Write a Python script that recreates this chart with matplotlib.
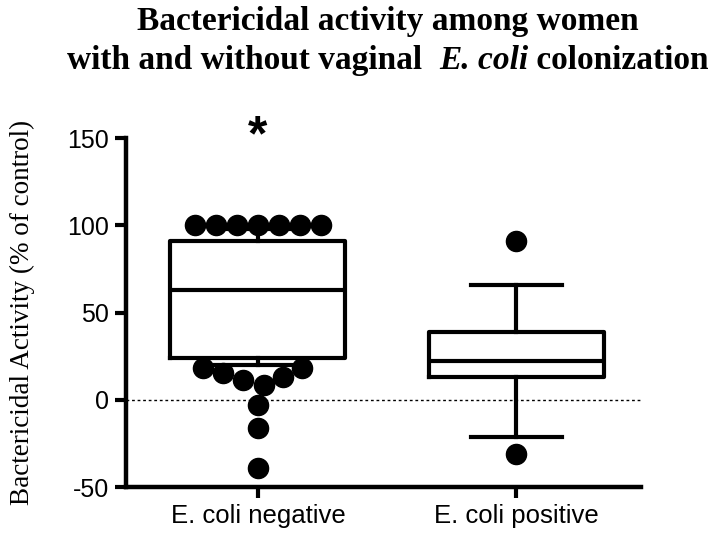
import numpy as np
import matplotlib
matplotlib.use('Agg')
import matplotlib.pyplot as plt

plt.rcParams['axes.unicode_minus'] = False

# Data
groups = ['E. coli negative', 'E. coli positive']
q1 = [24, 13]
median = [63, 22]
q3 = [91, 39]
whisker_low = [20, -21.5]
whisker_high = [98, 66]
neg_points = [100, 100, 100, 100, 100, 100, 100,
              18.4, 18.4, 15.6, 13.3, 11.1, 8.6, -3, -16, -39]
pos_points = [91, -31]
yticks = [-50, 0, 50, 100, 150]

fig = plt.figure(figsize=(7.14, 5.36), dpi=100)
ax = fig.add_axes([0.176, 0.0914, 0.722, 0.651])
ax.set_xlim(0.488, 2.484)
ax.set_ylim(-50, 150)

lw = 3.0
stats = []
for i in range(2):
    stats.append(dict(med=median[i], q1=q1[i], q3=q3[i],
                      whislo=whisker_low[i], whishi=whisker_high[i], fliers=[]))
ax.bxp(stats, positions=[1, 2], widths=0.678, showfliers=False,
       boxprops=dict(color='black', linewidth=lw),
       whiskerprops=dict(color='black', linewidth=lw),
       capprops=dict(color='black', linewidth=lw),
       medianprops=dict(color='black', linewidth=lw),
       capwidths=0.353)

# dotted zero line
ax.axhline(0, color='black', linewidth=1.0, linestyle=(0, (2, 2)), zorder=1)

# simple beeswarm in pixel space
diam = 21
def swarm(pos, vals):
    placed = []
    order = np.argsort(vals, kind='stable')
    res = [0] * len(vals)
    for idx in order:
        px, py = ax.transData.transform((pos, vals[idx]))
        best = None
        for step in np.arange(0, 200, 0.25):
            for dx in (step, -step):
                ok = True
                for (qx, qy) in placed:
                    if (px + dx - qx) ** 2 + (py - qy) ** 2 < diam ** 2:
                        ok = False
                        break
                if ok:
                    best = dx
                    break
            if best is not None:
                break
        placed.append((px + best, py))
        res[idx] = ax.transData.inverted().transform((px + best, py))[0]
    return res

ax.plot(swarm(1, neg_points), neg_points, 'o', color='black', markersize=14.5, zorder=5)
ax.plot(swarm(2, pos_points), pos_points, 'o', color='black', markersize=14.5, zorder=5)

ax.text(1, 150.5, '*', ha='center', va='center', fontsize=36, fontweight='bold',
        family='Liberation Sans')

for s in ['top', 'right']:
    ax.spines[s].set_visible(False)
ax.spines['left'].set_linewidth(3.2)
ax.spines['bottom'].set_linewidth(3.2)
ax.spines['left'].set_capstyle('projecting')
ax.set_yticks(yticks)
ax.set_xticks([1, 2])
ax.set_xticklabels(groups)
ax.tick_params(axis='both', width=3, length=8, pad=4)
ax.tick_params(axis='y', labelsize=18)
ax.tick_params(axis='x', labelsize=18.5)
for lab in ax.get_xticklabels() + ax.get_yticklabels():
    lab.set_family('Liberation Sans')

ax.set_ylabel('Bactericidal Activity (% of control)', family='Liberation Serif',
              fontsize=19.5)
ax.yaxis.set_label_coords(-0.176, 0.5)

# title
tkw = dict(fontsize=24, fontweight='bold', family='Liberation Serif', va='baseline')
fig.text(0.543, 0.944, 'Bactericidal activity among women', ha='center', **tkw)

parts = ['with and without vaginal  ', 'E. coli', ' colonization']
styles = ['normal', 'italic', 'normal']
renderer = fig.canvas.get_renderer()
texts = [fig.text(0, 0.871, p, style=s, ha='left', **tkw) for p, s in zip(parts, styles)]
widths = [t.get_window_extent(renderer).width for t in texts]
figw = fig.bbox.width
x = 0.543 * figw - sum(widths) / 2
for t, w in zip(texts, widths):
    t.set_x(x / figw)
    x += w

fig.savefig('out.png', dpi=100)
